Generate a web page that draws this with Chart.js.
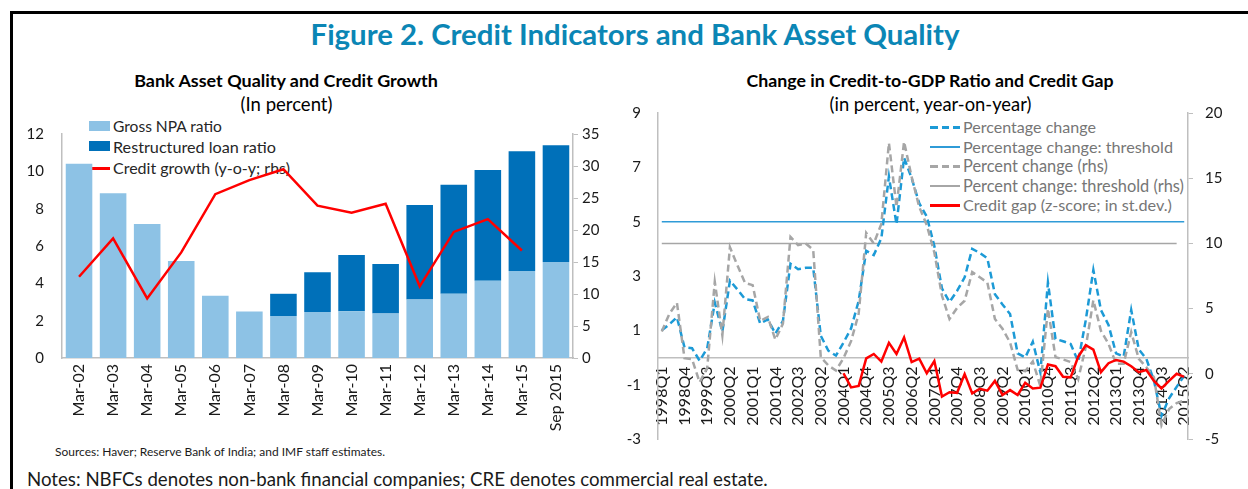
<!DOCTYPE html>
<html>
<head>
<meta charset="utf-8">
<script src="https://cdn.jsdelivr.net/npm/chart.js@4.4.1/dist/chart.umd.min.js"></script>
<style>
  html, body { margin:0; padding:0; background:#ffffff; }
  body { width:1248px; height:489px; position:relative; overflow:hidden; font-family: Lato, "Liberation Sans", sans-serif; color:#1a1a1a; }
  .t { position:absolute; white-space:nowrap; }
  .c { transform:translateX(-50%); }
  .box { position:absolute; }
  .chartbox { position:absolute; }
</style>
</head>
<body>
<div class="box" style="left:10px;top:11px;width:1238px;height:3px;background:#000"></div>
<div class="box" style="left:10px;top:11px;width:3px;height:478px;background:#000"></div>

<div class="t c" data-w="649" style="left:635px;top:19px;height:30px;line-height:30px;font-size:24px;font-weight:700;color:#0b86b5">Figure 2. Credit Indicators and Bank Asset Quality</div>

<div class="t c" data-w="304" style="left:286px;top:70px;height:20px;line-height:20px;font-size:16px;font-weight:700;color:#000">Bank Asset Quality and Credit Growth</div>
<div class="t c" data-w="92" style="left:286.5px;top:94px;height:20px;line-height:20px;font-size:16px;color:#000">(In percent)</div>

<div class="t c" data-w="367" style="left:930px;top:70px;height:20px;line-height:20px;font-size:16px;font-weight:700;color:#000">Change in Credit-to-GDP Ratio and Credit Gap</div>
<div class="t c" data-w="202" style="left:930.5px;top:94px;height:20px;line-height:20px;font-size:16px;color:#000">(in percent, year-on-year)</div>

<!-- left legend -->
<div class="box" style="left:89px;top:121px;width:21px;height:10px;background:#8dc2e5"></div>
<div class="t" data-w="109" style="left:113px;top:116px;height:20px;line-height:20px;font-size:15px;color:#262626">Gross NPA ratio</div>
<div class="box" style="left:89px;top:141px;width:21px;height:10px;background:#0070b9"></div>
<div class="t" data-w="163" style="left:113px;top:136.5px;height:20px;line-height:20px;font-size:15px;color:#262626">Restructured loan ratio</div>
<div class="box" style="left:89px;top:167px;width:21px;height:2.5px;background:#ff0000"></div>
<div class="t" data-w="177" style="left:113px;top:158px;height:20px;line-height:20px;font-size:15px;color:#262626">Credit growth (y-o-y; rhs)</div>

<!-- right legend -->
<div class="box" style="left:930px;top:125.5px;width:30px;height:3px;background:repeating-linear-gradient(to right,#1c9ad6 0 7.5px,transparent 7.5px 11.5px)"></div>
<div class="t" data-w="133" style="left:963px;top:117px;height:20px;line-height:20px;font-size:15px;color:#767676">Percentage change</div>
<div class="box" style="left:930px;top:146px;width:30px;height:1.5px;background:#2f9bd7"></div>
<div class="t" data-w="210" style="left:963px;top:136.7px;height:20px;line-height:20px;font-size:15px;color:#767676">Percentage change: threshold</div>
<div class="box" style="left:930px;top:164.5px;width:30px;height:3px;background:repeating-linear-gradient(to right,#a6a6a6 0 7.5px,transparent 7.5px 11.5px)"></div>
<div class="t" data-w="145" style="left:963px;top:156px;height:20px;line-height:20px;font-size:15px;color:#767676">Percent change (rhs)</div>
<div class="box" style="left:930px;top:185.3px;width:30px;height:1.5px;background:#a6a6a6"></div>
<div class="t" data-w="221" style="left:963px;top:176px;height:20px;line-height:20px;font-size:15px;color:#767676">Percent change: threshold (rhs)</div>
<div class="box" style="left:930px;top:204px;width:30px;height:2.5px;background:#ff0000"></div>
<div class="t" data-w="209" style="left:963px;top:195.3px;height:20px;line-height:20px;font-size:15px;color:#767676">Credit gap (z-score; in st.dev.)</div>

<div class="t" data-w="330" style="left:55px;top:445px;height:14px;line-height:14px;font-size:10.5px;color:#1a1a1a">Sources: Haver; Reserve Bank of India; and IMF staff estimates.</div>
<div class="t" data-w="741" style="left:27px;top:468px;height:22px;line-height:22px;font-size:17px;color:#1a1a1a">Notes: NBFCs denotes non-bank financial companies; CRE denotes commercial real estate.</div>

<div class="chartbox" style="left:20px;top:104px;width:600px;height:336px"><canvas id="c1"></canvas></div>
<div class="chartbox" style="left:600px;top:83px;width:648px;height:386px"><canvas id="c2"></canvas></div>

<script>
// ---------- Left panel data ----------
const barCategories = ['Mar-02','Mar-03','Mar-04','Mar-05','Mar-06','Mar-07','Mar-08','Mar-09','Mar-10','Mar-11','Mar-12','Mar-13','Mar-14','Mar-15','Sep 2015'];
const grossNPA = [10.40, 8.83, 7.18, 5.19, 3.33, 2.49, 2.25, 2.47, 2.51, 2.38, 3.13, 3.44, 4.14, 4.66, 5.14];
const restructuredLoans = [null, null, null, null, null, null, 1.19, 2.13, 3.01, 2.65, 5.07, 5.84, 5.93, 6.41, 6.26];
const creditGrowth = [12.7, 18.7, 9.3, 16.5, 25.6, 27.8, 29.5, 23.8, 22.7, 24.1, 11.2, 19.7, 21.7, 16.8, null];

// ---------- Right panel data ----------
const quarters = [
  '1998Q1','1998Q2','1998Q3','1998Q4','1999Q1','1999Q2','1999Q3','1999Q4',
  '2000Q1','2000Q2','2000Q3','2000Q4','2001Q1','2001Q2','2001Q3','2001Q4',
  '2002Q1','2002Q2','2002Q3','2002Q4','2003Q1','2003Q2','2003Q3','2003Q4',
  '2004Q1','2004Q2','2004Q3','2004Q4','2005Q1','2005Q2','2005Q3','2005Q4',
  '2006Q1','2006Q2','2006Q3','2006Q4','2007Q1','2007Q2','2007Q3','2007Q4',
  '2008Q1','2008Q2','2008Q3','2008Q4','2009Q1','2009Q2','2009Q3','2009Q4',
  '2010Q1','2010Q2','2010Q3','2010Q4','2011Q1','2011Q2','2011Q3','2011Q4',
  '2012Q1','2012Q2','2012Q3','2012Q4','2013Q1','2013Q2','2013Q3','2013Q4',
  '2014Q1','2014Q2','2014Q3','2014Q4','2015Q1','2015Q2'
];
const quarterTickLabels = ['1998Q1','1998Q4','1999Q3','2000Q2','2001Q1','2001Q4','2002Q3','2003Q2',
  '2004Q1','2004Q4','2005Q3','2006Q2','2007Q1','2007Q4','2008Q3','2009Q2','2010Q1','2010Q4',
  '2011Q3','2012Q2','2013Q1','2013Q4','2014Q3','2015Q2'];
const pctChange = [
  1.00, 1.22, 1.48, 0.37, 0.34, -0.12, 0.34, 2.02, 0.95, 2.83,
  2.50, 2.15, 2.10, 1.25, 1.40, 0.88, 1.35, 3.45, 3.25, 3.30,
  3.30, 0.80, 0.25, 0.07, 0.55, 1.07, 2.08, 3.93, 3.77, 4.39,
  6.66, 4.90, 7.35, 6.60, 5.68, 5.19, 4.10, 2.55, 2.04, 2.45,
  2.95, 4.00, 3.85, 3.65, 2.33, 1.95, 1.60, 0.15, 0.00, 0.58,
  -0.55, 2.76, 0.68, 0.60, 0.50, -0.15, 1.38, 3.22, 1.75, 1.20,
  0.15, 0.03, 1.75, 0.30, -0.05, -0.85, -2.15, -1.50, -1.08, -0.67
];
const pctChangeRhs = [
  3.25, 4.60, 5.45, 1.20, 1.12, -0.65, 0.45, 7.05, 2.95, 9.70,
  8.30, 6.97, 6.80, 4.05, 4.36, 2.62, 3.85, 10.50, 9.87, 10.00,
  9.50, 1.28, 0.64, 0.25, 1.20, 2.50, 4.60, 10.80, 10.00, 11.50,
  17.70, 12.80, 17.80, 15.10, 12.80, 11.40, 9.30, 6.00, 4.20, 5.05,
  5.60, 7.80, 7.40, 7.00, 4.20, 3.45, 2.40, 0.30, 0.20, 0.95,
  -0.95, 5.00, 1.28, 1.10, 0.90, -0.40, 2.05, 5.64, 3.30, 2.30,
  0.77, 0.77, 3.20, 1.15, 0.50, -0.26, -3.95, -2.70, -2.25, -2.05
];
const creditGap = [
  null, null, null, null, null, null, null, null, null, null,
  null, null, null, null, null, null, null, null, null, null,
  null, null, null, null,
  -0.58, -1.10, -1.05, -0.03, 0.13, -0.15, 0.54, 0.13, 0.74, -0.17,
  -0.04, -0.58, -0.13, -1.44, -1.28, -1.30, -0.61, -1.32, -1.15, -1.22,
  -0.86, -1.38, -1.20, -1.38, -0.93, -1.14, -1.11, -0.26, -0.32, -0.71,
  -0.73, 0.03, 0.45, 0.29, -0.54, -0.21, -0.09, -0.15, -0.32, -0.54,
  -0.46, -0.86, -1.14, -0.86, -0.60, -0.71
];
const pctThreshold = 5;
const pctThresholdRhs = 10;
const rhsThresholdLastQuarter = '2015Q1';

// ---------- fit text widths ----------
document.querySelectorAll('[data-w]').forEach(el => {
  const target = parseFloat(el.dataset.w);
  const w = el.getBoundingClientRect().width;
  if (w > 0) {
    const fs = parseFloat(getComputedStyle(el).fontSize);
    el.style.fontSize = (fs * target / w).toFixed(2) + 'px';
  }
});

Chart.defaults.font.family = 'Lato, "Liberation Sans", sans-serif';
Chart.defaults.font.size = 15;
Chart.defaults.color = '#1a1a1a';

const axisGray = '#bfbfbf';

new Chart(document.getElementById('c1'), {
  type: 'bar',
  data: {
    labels: barCategories,
    datasets: [
      { type: 'line', label: 'Credit growth (y-o-y; rhs)', data: creditGrowth, yAxisID: 'y1',
        borderColor: '#ff0000', backgroundColor: '#ff0000', borderWidth: 2.5, pointRadius: 0, tension: 0 },
      { label: 'Gross NPA ratio', data: grossNPA, yAxisID: 'y', backgroundColor: '#8dc2e5', stack: 's' },
      { label: 'Restructured loan ratio', data: restructuredLoans, yAxisID: 'y', backgroundColor: '#0070b9', stack: 's' }
    ]
  },
  options: {
    animation: false, responsive: true, maintainAspectRatio: false,
    layout: { padding: { top: 30, left: 0, right: 0, bottom: 0 } },
    plugins: { legend: { display: false }, tooltip: { enabled: false } },
    datasets: { bar: { barPercentage: 0.78, categoryPercentage: 1 } },
    scales: {
      x: { stacked: true, grid: { display: false, drawTicks: false },
           border: { display: true, color: axisGray, width: 1.5 },
           ticks: { minRotation: 90, maxRotation: 90, autoSkip: false, padding: 6, font: { size: 16 } },
           afterFit: s => { s.height = 82; } },
      y: { position: 'left', stacked: true, min: 0, max: 12,
           ticks: { stepSize: 2, padding: 18 },
           grid: { display: false, drawTicks: false },
           border: { display: true, color: axisGray, width: 1.5 },
           afterFit: s => { s.width = 42; } },
      y1: { position: 'right', min: 0, max: 35,
            ticks: { stepSize: 5, padding: 4 },
            grid: { display: true, drawOnChartArea: false, drawTicks: true, tickLength: 5, color: axisGray },
            border: { display: true, color: axisGray, width: 1.5 },
            afterFit: s => { s.width = 47; } }
    }
  }
});

const thresholdSeries = quarters.map(() => pctThreshold);
const thresholdRhsSeries = quarters.map(q => (q <= rhsThresholdLastQuarter ? pctThresholdRhs : null));

new Chart(document.getElementById('c2'), {
  type: 'line',
  data: {
    labels: quarters,
    datasets: [
      { label: 'Credit gap (z-score; in st.dev.)', data: creditGap, yAxisID: 'y', borderColor: '#ff0000', borderWidth: 2.5 },
      { label: 'Percent change (rhs)', data: pctChangeRhs, yAxisID: 'y1', borderColor: '#a6a6a6', borderWidth: 2.5, borderDash: [7, 4] },
      { label: 'Percentage change', data: pctChange, yAxisID: 'y', borderColor: '#1c9ad6', borderWidth: 2.5, borderDash: [7, 4] },
      { label: 'Percent change: threshold (rhs)', data: thresholdRhsSeries, yAxisID: 'y1', borderColor: '#a6a6a6', borderWidth: 1.5 },
      { label: 'Percentage change: threshold', data: thresholdSeries, yAxisID: 'y', borderColor: '#2f9bd7', borderWidth: 1.5 }
    ]
  },
  options: {
    animation: false, responsive: true, maintainAspectRatio: false,
    layout: { padding: { top: 30, left: 0, right: 0, bottom: 30 } },
    plugins: { legend: { display: false }, tooltip: { enabled: false } },
    elements: { point: { radius: 0 }, line: { tension: 0, fill: false } },
    scales: {
      x: { position: { y: 0 }, offset: true,
           grid: { display: false, drawTicks: false },
           border: { display: true, color: axisGray, width: 1.5 },
           ticks: { autoSkip: false, minRotation: 90, maxRotation: 90, padding: 9, font: { size: 16 },
                    callback: function (v) { const l = this.getLabelForValue(v); return quarterTickLabels.includes(l) ? l : null; } },
           afterFit: s => { s.height = 0; } },
      y: { position: 'left', min: -3, max: 9,
           ticks: { stepSize: 2, padding: 17 },
           grid: { display: false, drawTicks: false },
           border: { display: true, color: axisGray, width: 1.5 },
           afterFit: s => { s.width = 58; } },
      y1: { position: 'right', min: -5, max: 20,
            ticks: { stepSize: 5, padding: 12 },
            grid: { display: true, drawOnChartArea: false, drawTicks: true, tickLength: 5, color: axisGray },
            border: { display: true, color: axisGray, width: 1.5 },
            afterFit: s => { s.width = 60; } }
    }
  }
});
</script>
</body>
</html>
